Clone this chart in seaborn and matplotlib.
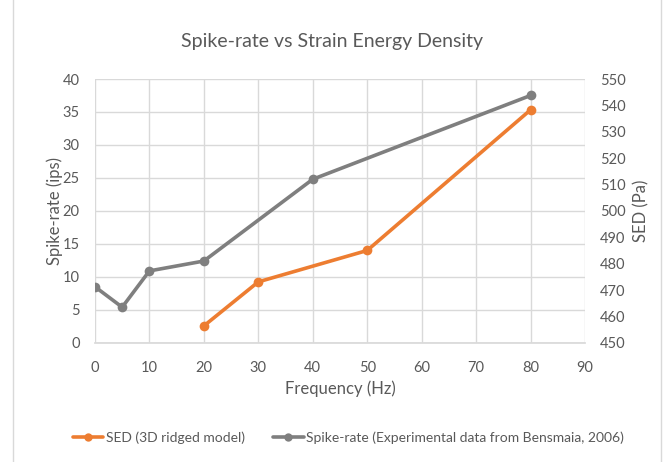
import matplotlib
matplotlib.use("Agg")
import matplotlib.pyplot as plt
import seaborn as sns
import pandas as pd
from matplotlib.lines import Line2D
from matplotlib.patches import Rectangle

# Data
spike_freq = [0, 5, 10, 20, 40, 80]
spike_rate = [8.5, 5.4, 10.9, 12.4, 24.8, 37.5]
sed_freq = [20, 30, 50, 80]
sed_vals = [456.4, 473.1, 485.0, 538.3]

sed_label = "SED (3D ridged model)"
spike_label = "Spike-rate (Experimental data from Bensmaia, 2006)"

sns.set_theme(style="white")
plt.rcParams['font.family'] = ['Lato', 'DejaVu Sans']

ORANGE = "#ED7D31"
GRAY = "#7F7F7F"
TXT = "#595959"
GRID = "#D9D9D9"

fig = plt.figure(figsize=(6.64, 4.62), dpi=100)
ax = fig.add_axes([0.143, 0.258, 0.738, 0.571])
ax2 = ax.twinx()

df_spike = pd.DataFrame({"f": spike_freq, "v": spike_rate})
df_sed = pd.DataFrame({"f": sed_freq, "v": sed_vals})

sns.lineplot(data=df_spike, x="f", y="v", ax=ax, color=GRAY, marker="o",
             linewidth=2.6, markersize=7, markeredgewidth=0, zorder=3)
sns.lineplot(data=df_sed, x="f", y="v", ax=ax2, color=ORANGE, marker="o",
             linewidth=2.6, markersize=7, markeredgewidth=0, zorder=3)

ax.set_xlim(0, 90)
ax.set_ylim(0, 40)
ax2.set_ylim(450, 550)
ax.set_xticks(range(0, 91, 10))
ax.set_yticks(range(0, 41, 5))
ax2.set_yticks(range(450, 551, 10))

ax.grid(True, color=GRID, linewidth=1)
ax.set_axisbelow(True)
for a in (ax, ax2):
    for s in a.spines.values():
        s.set_visible(False)
    a.tick_params(length=0, labelsize=10.5, colors=TXT, pad=11)
ax.tick_params(axis='x', pad=13)
ax.spines['bottom'].set_visible(True)
ax.spines['bottom'].set_color(GRID)

ax.set_xlabel("Frequency (Hz)", fontsize=12, color=TXT, labelpad=4)
ax.set_ylabel("Spike-rate (ips)", fontsize=12, color=TXT, labelpad=0)
ax2.set_ylabel("SED (Pa)", fontsize=12, color=TXT, labelpad=5)

fig.suptitle("Spike-rate vs Strain Energy Density", fontsize=14, color=TXT,
             y=0.928)

handles = [
    Line2D([0], [0], color=ORANGE, lw=2.6, marker="o", markersize=6, markeredgewidth=0),
    Line2D([0], [0], color=GRAY, lw=2.6, marker="o", markersize=6, markeredgewidth=0),
]
fig.legend(handles, [sed_label, spike_label], loc="center", ncol=2,
           bbox_to_anchor=(0.525, 0.053), frameon=False, fontsize=10,
           labelcolor=TXT, handlelength=2.2, handletextpad=0.2, columnspacing=2.0)

fig.patches.append(Rectangle((0.02, -0.01), 0.975, 1.02, transform=fig.transFigure,
                             fill=False, edgecolor=GRID, linewidth=1))

fig.savefig("out.png", dpi=100)
